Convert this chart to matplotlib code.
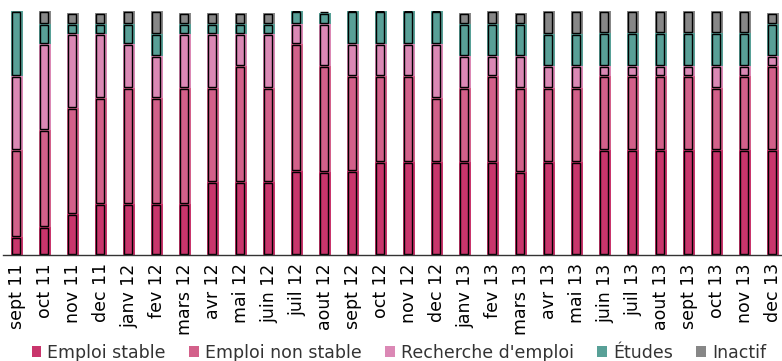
import numpy as np
import matplotlib.pyplot as plt

mois = ['sept 11', 'oct 11', 'nov 11', 'dec 11', 'janv 12', 'fev 12', 'mars 12',
        'avr 12', 'mai 12', 'juin 12', 'juil 12', 'aout 12', 'sept 12', 'oct 12',
        'nov 12', 'dec 12', 'janv 13', 'fev 13', 'mars 13', 'avr 13', 'mai 13',
        'juin 13', 'juil 13', 'aout 13', 'sept 13', 'oct 13', 'nov 13', 'dec 13']

emploi_stable = [7.4, 11.5, 16.8, 20.9, 20.9, 20.9, 20.9, 29.9, 29.9, 29.9, 34.4, 34.0, 34.4, 38.1,
                 38.1, 38.1, 38.1, 38.1, 34.0, 38.1, 38.1, 43.0, 43.0, 43.0, 43.0, 43.0, 43.0, 43.0]
emploi_non_stable = [35.7, 39.8, 43.4, 43.4, 47.5, 43.4, 47.5, 38.5, 47.5, 38.5, 52.0, 43.4, 38.9, 35.2,
                     35.2, 26.2, 30.3, 35.2, 34.4, 30.3, 30.3, 30.3, 30.3, 30.3, 30.3, 25.4, 30.3, 34.4]
recherche = [30.3, 35.2, 30.3, 26.2, 18.0, 17.2, 22.1, 22.1, 13.1, 22.1, 8.2, 17.2, 13.1, 13.1,
             13.1, 22.1, 13.1, 8.2, 13.1, 9.0, 9.0, 4.1, 4.1, 4.1, 4.1, 9.0, 4.1, 4.1]
etudes = [26.6, 8.2, 4.1, 4.1, 8.2, 9.0, 4.1, 4.1, 4.1, 4.1, 5.3, 4.5, 13.5, 13.5,
          13.5, 13.5, 13.1, 13.1, 13.1, 13.1, 13.1, 13.5, 13.5, 13.5, 13.5, 13.5, 13.5, 13.1]
inactif = [0, 5.3, 4.5, 4.5, 5.3, 9.4, 4.5, 4.5, 4.5, 4.5, 0, 0, 0, 0,
           0, 0, 4.5, 5.3, 4.5, 9.4, 9.4, 9.0, 9.0, 9.0, 9.0, 9.0, 9.0, 4.5]

series = [emploi_stable, emploi_non_stable, recherche, etudes, inactif]
noms = ['Emploi stable', 'Emploi non stable', "Recherche d'emploi", 'Études', 'Inactif']
couleurs = ['#C9356C', '#D3608A', '#DB88B5', '#58A097', '#878787']

fig = plt.figure(figsize=(7.82, 3.61), dpi=100)
ax = fig.add_axes([3 / 782, 106 / 361, 779 / 782, 244 / 361])

x = np.arange(len(mois))
bas = np.zeros(len(mois))
w = 0.40
for vals, nom, c in zip(series, noms, couleurs):
    vals = np.array(vals)
    ax.bar(x, vals, w, bottom=bas, color=c, label=nom, linewidth=0)
    # contour noir décalé (effet ombre)
    ax.bar(x - 0.04, np.where(vals > 0, vals - 0.6, 0), w - 0.1, bottom=bas + 0.3,
           fill=False, edgecolor='black', linewidth=1.0)
    bas += vals

ax.set_xlim(-0.5, (782 - 17) / 28)
ax.set_ylim(0, 100)
ax.set_yticks([])
ax.set_xticks(x)
ax.set_xticklabels(mois, rotation=90, fontsize=12.5, family='DejaVu Sans')
ax.tick_params(axis='x', length=0, pad=6)
for s in ['top', 'right', 'left']:
    ax.spines[s].set_visible(False)
ax.spines['bottom'].set_color('#333333')
ax.spines['bottom'].set_linewidth(1)

leg = fig.legend(loc='lower center', bbox_to_anchor=(0.51, -0.045), ncol=5, frameon=False,
                 fontsize=12.5, handlelength=0.55, handleheight=0.55, handletextpad=0.35,
                 columnspacing=1.35)
for t in leg.get_texts():
    t.set_color('#333333')

fig.savefig('out.png', dpi=100)
